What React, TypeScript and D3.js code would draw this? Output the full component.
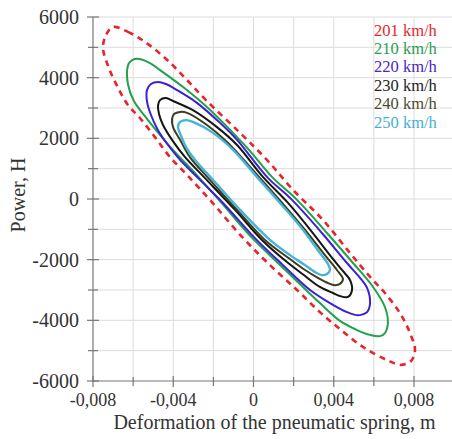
import React from "react";
import * as d3 from "d3";

type Pt = [number, number];

// Deformation (m), Power (H) — traced loops
const loop201: Pt[] = [
  [-0.007, 5670], [-0.00626, 5510], [-0.00541, 5180], [-0.00441, 4650], [-0.00341, 3990],
  [-0.00237, 3260], [-0.00067, 2180], [0.00067, 1290], [0.00197, 300], [0.00346, -690],
  [0.00481, -1780], [0.00581, -2570], [0.00655, -3100], [0.0073, -3760], [0.0078, -4420],
  [0.00805, -4980], [0.00785, -5340], [0.00735, -5470], [0.00665, -5310], [0.00546, -4880],
  [0.00431, -4290], [0.00331, -3730], [0.00217, -3000], [0.00082, -2180], [-0.00057, -1250],
  [-0.00217, -30], [-0.00331, 790], [-0.00416, 1380], [-0.00491, 2040], [-0.00566, 2670],
  [-0.00626, 3100], [-0.00675, 3660], [-0.00725, 4390], [-0.0075, 4980], [-0.00735, 5410],
];
const loop210: Pt[] = [
  [-0.00581, 4620], [-0.00516, 4480], [-0.00466, 4250], [-0.00351, 3690], [-0.00232, 3030],
  [-0.00082, 2040], [-0.00017, 1580], [0.00092, 730], [0.00217, -30], [0.00366, -1120],
  [0.00496, -2110], [0.00596, -2900], [0.00655, -3560], [0.0067, -4090], [0.00655, -4420],
  [0.00631, -4520], [0.00581, -4480], [0.00516, -4320], [0.00431, -4020], [0.00331, -3430],
  [0.00262, -3000], [0.00127, -2140], [-0.00012, -1250], [-0.00172, -30], [-0.00287, 820],
  [-0.00406, 1650], [-0.00486, 2270], [-0.00546, 2770], [-0.00596, 3230], [-0.00626, 3790],
  [-0.00626, 4390], [-0.00611, 4550],
];
const loop220: Pt[] = [
  [-0.00511, 3790], [-0.00476, 3860], [-0.00436, 3790], [-0.00381, 3590], [-0.00282, 3170],
  [-0.00167, 2510], [-0.00082, 1950], [0.00067, 730], [0.00192, -30], [0.00341, -1120],
  [0.00466, -2110], [0.00531, -2600], [0.00566, -2930], [0.00581, -3430], [0.00566, -3730],
  [0.00536, -3820], [0.00506, -3820], [0.00466, -3730], [0.00381, -3430], [0.00282, -3000],
  [0.00147, -2180], [0.00007, -1290], [-0.00152, -130], [-0.00267, 630], [-0.00366, 1290],
  [-0.00426, 1780], [-0.00476, 2270], [-0.00511, 2770], [-0.00531, 3230], [-0.00531, 3590],
];
const loop230: Pt[] = [
  [-0.00466, 3260], [-0.00436, 3330], [-0.00401, 3230], [-0.00302, 2930], [-0.00182, 2370],
  [-0.00082, 1780], [0.00047, 730], [0.00172, -130], [0.00292, -1090], [0.00381, -1850],
  [0.00441, -2340], [0.00481, -2670], [0.00491, -3000], [0.00471, -3230], [0.00431, -3200],
  [0.00396, -3100], [0.00331, -2900], [0.00257, -2540], [0.00167, -2080], [0.00042, -1350],
  [-0.00092, -360], [-0.00242, 690], [-0.00341, 1380], [-0.00406, 1950], [-0.00451, 2440],
  [-0.00471, 2800], [-0.00476, 3070],
];
const loop240: Pt[] = [
  [-0.00396, 2800], [-0.00366, 2870], [-0.00331, 2840], [-0.00232, 2440], [-0.00132, 1880],
  [0.00027, 730], [0.00147, -160], [0.00257, -1020], [0.00356, -1850], [0.00416, -2340],
  [0.00446, -2640], [0.00431, -2800], [0.00406, -2840], [0.00371, -2770], [0.00321, -2600],
  [0.00257, -2340], [0.00182, -1980], [0.00057, -1350], [-0.00082, -360], [-0.00217, 630],
  [-0.00317, 1380], [-0.00366, 1950], [-0.00401, 2370], [-0.00406, 2640],
];
const loop250: Pt[] = [
  [-0.00366, 2540], [-0.00336, 2600], [-0.00302, 2540], [-0.00202, 2180], [-0.00102, 1620],
  [0.00017, 730], [0.00132, -130], [0.00247, -1020], [0.00331, -1780], [0.00371, -2140],
  [0.00381, -2340], [0.00366, -2470], [0.00341, -2510], [0.00307, -2410], [0.00257, -2180],
  [0.00182, -1850], [0.00082, -1350], [-0.00067, -360], [-0.00192, 560], [-0.00292, 1290],
  [-0.00336, 1710], [-0.00361, 2080], [-0.00376, 2370],
];

const seriesNames = ["201 km/h", "210 km/h", "220 km/h", "230 km/h", "240 km/h", "250 km/h"];
const seriesData = [loop201, loop210, loop220, loop230, loop240, loop250];
const lineColors = ["#e8242a", "#22a04c", "#3b20d4", "#151515", "#3c3c1f", "#45b4da"];
const legendColors = ["#e3282c", "#2c9c50", "#4a24c8", "#222222", "#4b4a2b", "#44afd4"];

const xMajorTicks = [-0.008, -0.004, 0, 0.004, 0.008];
const xMinorTicks = [-0.006, -0.002, 0.002, 0.006];
const yMajorTicks = [-6000, -4000, -2000, 0, 2000, 4000, 6000];
const yMinorTicks = [-5000, -3000, -1000, 1000, 3000, 5000];

const xTitle = "Deformation of the pneumatic spring, m";
const yTitle = "Power, H";

const W = 452;
const H = 439;
const serif = "'Liberation Serif', 'Times New Roman', serif";

export default function App() {
  const x = d3.scaleLinear().domain([-0.008, 0.008]).range([93, 414]);
  const y = d3.scaleLinear().domain([-6000, 6000]).range([381, 17]);
  const legendPos = d3.scaleLinear().domain([0, seriesNames.length - 1]).range([35.5, 127.5]);
  const x0 = x(-0.008);
  const yBottom = y(-6000);
  const yTop = y(6000);

  const line = d3
    .line<Pt>()
    .x((d) => x(d[0]))
    .y((d) => y(d[1]))
    .curve(d3.curveCatmullRomClosed.alpha(0.5));

  const fmtX = (v: number) => (v === 0 ? "0" : v.toFixed(3).replace(".", ","));
  const gridX = [...xMajorTicks, ...xMinorTicks].filter((v) => v > -0.008);
  const gridY = [...yMajorTicks, ...yMinorTicks].filter((v) => v > -6000);

  return (
    <svg
      width={W}
      height={H}
      style={{ position: "absolute", left: 0, top: 0, background: "#fff" }}
      fontFamily={serif}
    >
      <rect x={0} y={0} width={W} height={H} fill="#fff" />
      {/* grid */}
      {gridX.map((v) => (
        <line key={"gx" + v} x1={x(v)} x2={x(v)} y1={yTop} y2={yBottom} stroke="#dcdcdc" strokeWidth={1} />
      ))}
      {gridY.map((v) => (
        <line key={"gy" + v} x1={x0} x2={W} y1={y(v)} y2={y(v)} stroke="#dcdcdc" strokeWidth={1} />
      ))}

      {/* loops */}
      {seriesData.map((d, i) => (
        <path
          key={seriesNames[i]}
          d={line(d) || ""}
          fill="none"
          stroke={lineColors[i]}
          strokeWidth={i === 0 ? 2.6 : i === 5 ? 2.4 : 2}
          strokeDasharray={i === 0 ? "6 5" : undefined}
          strokeLinejoin="round"
        />
      ))}

      {/* axes */}
      <line x1={x0} x2={x0} y1={yTop} y2={yBottom + 1} stroke="#777" strokeWidth={1.2} />
      <line x1={x0} x2={W} y1={yBottom} y2={yBottom} stroke="#777" strokeWidth={1.2} />
      {yMajorTicks.map((v) => (
        <line key={"yt" + v} x1={x0 - 6} x2={x0 + 6} y1={y(v)} y2={y(v)} stroke="#777" strokeWidth={1.2} />
      ))}
      {yMinorTicks.map((v) => (
        <line key={"ym" + v} x1={x0 - 5} x2={x0 + 5} y1={y(v)} y2={y(v)} stroke="#777" strokeWidth={1.2} />
      ))}
      {xMajorTicks.map((v) => (
        <line key={"xt" + v} x1={x(v)} x2={x(v)} y1={yBottom - 5} y2={yBottom + 6} stroke="#777" strokeWidth={1.2} />
      ))}
      {xMinorTicks.map((v) => (
        <line key={"xm" + v} x1={x(v)} x2={x(v)} y1={yBottom - 4} y2={yBottom + 5} stroke="#777" strokeWidth={1.2} />
      ))}

      {/* tick labels */}
      {yMajorTicks.map((v) => (
        <text key={"yl" + v} x={79} y={y(v)} dy="0.35em" textAnchor="end" fontSize={20} fill="#333">
          {String(v)}
        </text>
      ))}
      {xMajorTicks.map((v) => (
        <text key={"xl" + v} x={x(v)} y={406} textAnchor="middle" fontSize={18} fill="#333">
          {fmtX(v)}
        </text>
      ))}

      {/* titles */}
      <text x={274.5} y={429} textAnchor="middle" fontSize={20} fill="#333">
        {xTitle}
      </text>
      <text transform={`translate(25, 195) rotate(-90)`} textAnchor="middle" fontSize={20} fill="#333">
        {yTitle}
      </text>

      {/* legend */}
      {seriesNames.map((n, i) => (
        <text key={"lg" + n} x={374} y={legendPos(i)} fontSize={16.5} fill={legendColors[i]}>
          {n}
        </text>
      ))}
    </svg>
  );
}
